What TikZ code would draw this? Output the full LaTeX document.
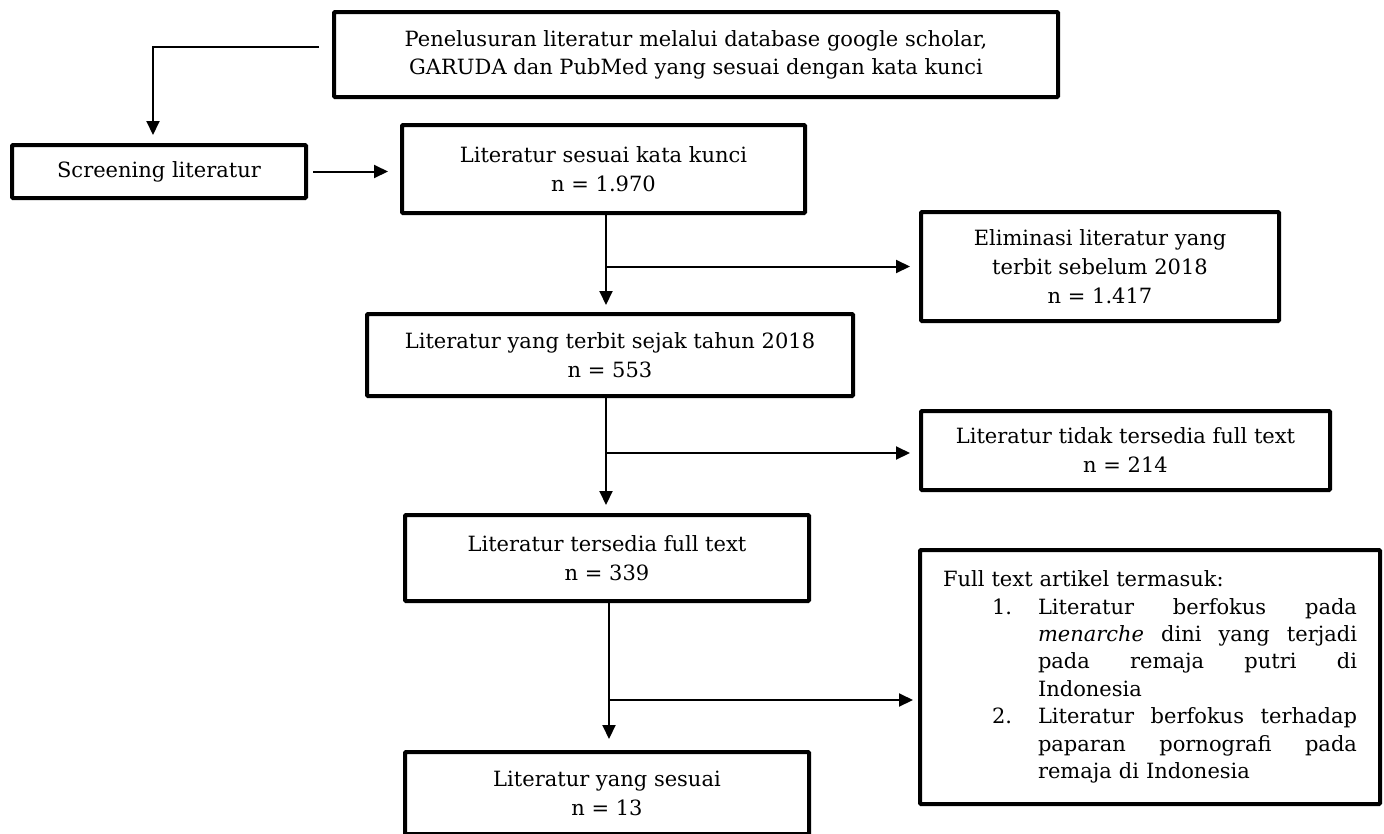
\documentclass[tikz,border=0pt]{standalone}
\usepackage{fontspec}
\setmainfont{DejaVu Serif}
\usetikzlibrary{arrows.meta, calc, positioning}
\tikzset{
    fbox/.style = {draw, line width=4pt, rounded corners=1pt, align=center, inner sep=0pt,
        font=\fontsize{21}{29}\selectfont},
    conn/.style = {line width=2pt, -{Triangle[length=14pt,width=13pt]}},
}
\newcommand\jline[1]{\hbox to 319pt{#1}}

\begin{document}
\begin{tikzpicture}[x=1pt,y=-1pt]
\useasboundingbox (0,0) rectangle (1384,833);

\node[fbox, minimum width=724, minimum height=85, font=\fontsize{21}{26.5}\selectfont] (search) at (696,54.5) {\raisebox{4pt}{\shortstack{Penelusuran literatur melalui database google scholar,\\[4.5pt]GARUDA dan PubMed yang sesuai dengan kata kunci}}};
\node[fbox, minimum width=294, minimum height=53] (screen) at (159,171.5) {Screening literatur};
\node[fbox, minimum width=403, minimum height=88] (keyword) at (603.5,169) {Literatur sesuai kata kunci\\n = 1.970};
\node[fbox, minimum width=358, minimum height=109] (elim) at (1100,266.5) {Eliminasi literatur yang\\terbit sebelum 2018\\n = 1.417};
\node[fbox, minimum width=486, minimum height=82] (since) at (610,355) {Literatur yang terbit sejak tahun 2018\\n = 553};
\node[fbox, minimum width=409, minimum height=79] (nofull) at (1125.5,450.5) {Literatur tidak tersedia full text\\n = 214};
\node[fbox, minimum width=404, minimum height=86] (full) at (607,558) {Literatur tersedia full text\\n = 339};
\node[fbox, minimum width=404, minimum height=82] (final) at (607,793) {Literatur yang sesuai\\n = 13};
\node[fbox, minimum width=460, minimum height=254, text width=414pt, align=left,
    font=\fontsize{21}{27.4}\selectfont] (incl) at (1150,677) {Full text artikel termasuk:\\
\hspace*{49pt}\makebox[46pt][l]{1.}\jline{Literatur\hfill berfokus\hfill pada}\\
\hspace*{95pt}\jline{\textit{menarche}\hfill dini\hfill yang\hfill terjadi}\\
\hspace*{95pt}\jline{pada\hfill remaja\hfill putri\hfill di}\\
\hspace*{95pt}Indonesia\\
\hspace*{49pt}\makebox[46pt][l]{2.}\jline{Literatur\hfill berfokus\hfill terhadap}\\
\hspace*{95pt}\jline{paparan\hfill pornografi\hfill pada}\\
\hspace*{95pt}remaja di Indonesia};

\draw[conn, shorten >=8pt] ([xshift=-13pt,yshift=7.5pt]search.west) -| ([xshift=-6pt]screen.north);
\draw[conn, shorten <=5pt, shorten >=12pt] (screen.east) -- (screen.east -| keyword.west);

\draw[conn, shorten >=7pt] ([xshift=2.5pt]keyword.south) -- ([xshift=2.5pt]keyword.south |- since.north);
\draw[conn, shorten >=9pt] ([xshift=2.5pt]keyword.south |- elim.west) -- (elim.west);

\draw[conn, shorten >=8pt] ([xshift=-4pt]since.south) -- ([xshift=-4pt]since.south |- full.north);
\draw[conn, shorten >=9pt] ([xshift=-4pt,yshift=-2.5pt]since.south |- nofull.west) -- ([yshift=-2.5pt]nofull.west);

\draw[conn, shorten >=11pt] ([xshift=2pt]full.south) -- ([xshift=2pt]full.south |- final.north);
\draw[conn, shorten >=5pt] ([xshift=2pt,yshift=-23pt]full.south |- incl.west) -- ([yshift=-23pt]incl.west);

\end{tikzpicture}
\end{document}
